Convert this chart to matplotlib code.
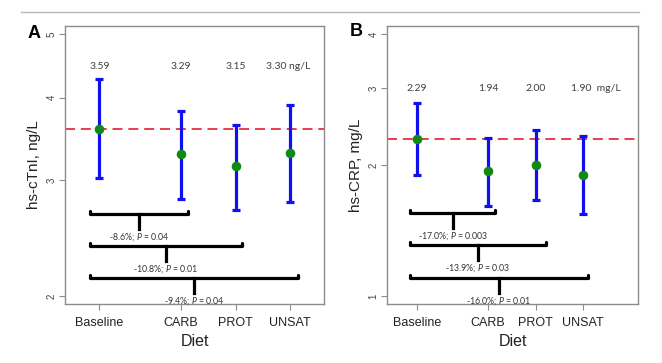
import matplotlib
matplotlib.use("Agg")
import matplotlib.pyplot as plt
from matplotlib.lines import Line2D
from matplotlib.ticker import FixedLocator, FixedFormatter, NullLocator

# ---- data ----
categories = ["Baseline", "CARB", "PROT", "UNSAT"]

ctni_mean = [3.59, 3.29, 3.15, 3.30]
ctni_low = [3.02, 2.81, 2.70, 2.78]
ctni_high = [4.27, 3.82, 3.64, 3.90]
ctni_labels = ["3.59", "3.29", "3.15", "3.30 ng/L"]

crp_mean = [2.29, 1.94, 2.00, 1.90]
crp_low = [1.90, 1.61, 1.66, 1.54]
crp_high = [2.77, 2.31, 2.41, 2.33]
crp_labels = ["2.29", "1.94", "2.00", "1.90  mg/L"]

ctni_comp = ["-8.6%; $P$ = 0.04", "-10.8%; $P$ = 0.01", "-9.4%; $P$ = 0.04"]
crp_comp = ["-17.0%; $P$ = 0.003", "-13.9%; $P$ = 0.03", "-16.0%; $P$ = 0.01"]

ctni_yticks = [2, 3, 4, 5]
crp_yticks = [1, 2, 3, 4]

# ---- layout ----
xpos = [1, 2.5, 3.5, 4.5]

plt.rcParams["font.family"] = ["Liberation Sans", "DejaVu Sans"]
plt.rcParams["mathtext.fontset"] = "custom"
plt.rcParams["mathtext.it"] = "Lato:italic"
plt.rcParams["mathtext.rm"] = "Lato"

W, H = 662, 363
fig = plt.figure(figsize=(W / 100, H / 100), dpi=100)

def ax_rect(l, t, r, b):
    return [l / W, 1 - b / H, (r - l) / W, (b - t) / H]

axA = fig.add_axes(ax_rect(65, 26, 324, 304))
axB = fig.add_axes(ax_rect(387, 26, 638, 304))

gray = "#8c8c8c"

def ypix(ax, y, dpx):
    d = ax.transData.transform((1, y))
    return ax.transData.inverted().transform((d[0], d[1] + dpx))[1]

def panel(ax, mean, low, high, labels, yticks, ylim, xlim, label_y, label_off,
          comps, br_left, br_right, br_y, ylab, letter, letter_xy):
    ax.set_yscale("log")
    ax.set_ylim(*ylim)
    ax.set_xlim(*xlim)
    ax.yaxis.set_major_locator(FixedLocator(yticks))
    ax.yaxis.set_major_formatter(FixedFormatter([str(t) for t in yticks]))
    ax.yaxis.set_minor_locator(NullLocator())
    ax.set_xticks(xpos)
    ax.set_xticklabels(categories, fontsize=9, color="#222222")
    for s in ax.spines.values():
        s.set_color(gray)
        s.set_linewidth(1.0)
    ax.tick_params(axis="y", length=4, width=0.8, color=gray, labelsize=7,
                   labelcolor="#444444", labelrotation=90, pad=2)
    ax.tick_params(axis="x", length=4, width=0.8, color=gray, pad=5)
    for lab in ax.get_yticklabels():
        lab.set_va("center")
    ax.axhline(mean[0], color="#e0202e", lw=1.2, ls=(0, (6, 3.5)), zorder=1)
    yerr = [[m - l for m, l in zip(mean, low)], [h - m for m, h in zip(mean, high)]]
    ax.errorbar(xpos, mean, yerr=yerr, fmt="none", ecolor="#1010ee", elinewidth=2.3,
                capsize=2.6, capthick=2.3, zorder=2)
    ax.scatter(xpos, mean, s=48, color="#118a11", zorder=3, linewidths=0)
    for x, t, off in zip(xpos, labels, label_off):
        ax.annotate(t, (x, label_y), xytext=(off, 0), textcoords="offset points",
                    ha="center", va="center", fontsize=7.5, color="#404040",
                    fontfamily="Lato")
    for c, r, y in zip(comps, br_right, br_y):
        up = ypix(ax, y, 3)
        ax.plot([br_left, br_left, r, r], [up, y, y, up], color="black", lw=2.3,
                solid_capstyle="round", solid_joinstyle="round", zorder=2)
        xc = (br_left + r) / 2
        stem = ypix(ax, y, -15)
        ax.plot([xc, xc], [y, stem], color="black", lw=2.3, zorder=2)
        ty = ypix(ax, y, -23)
        ax.text(xc, ty, c, ha="center", va="center", fontsize=6.3, color="#333333",
                fontfamily="Lato")
    ax.set_xlabel("Diet", fontsize=11.5, color="#222222", labelpad=4)
    ax.set_ylabel(ylab, fontsize=11, color="#222222", labelpad=4)
    fig.text(letter_xy[0] / W, 1 - letter_xy[1] / H, letter, fontsize=13,
             fontweight="bold", ha="center", va="center")

panel(axA, ctni_mean, ctni_low, ctni_high, ctni_labels, ctni_yticks,
      (1.945, 5.14), (0.37, 5.12), 4.46, [0, 0, 0, -1.5],
      ctni_comp, 0.82, [2.63, 3.62, 4.65], [2.665, 2.38, 2.13],
      "hs-cTnI, ng/L", "A", (34, 33))
panel(axB, crp_mean, crp_low, crp_high, crp_labels, crp_yticks,
      (0.958, 4.17), (0.37, 5.66), 3.0, [0, 0, 0, 9],
      crp_comp, 0.86, [2.65, 3.72, 4.6], [1.55, 1.31, 1.10],
      "hs-CRP, mg/L", "B", (356, 32))

fig.add_artist(Line2D([21 / W, 639 / W], [1 - 12 / H, 1 - 12 / H],
                      color="#b8b8b8", lw=1.0))

fig.savefig("out.png", dpi=100)
